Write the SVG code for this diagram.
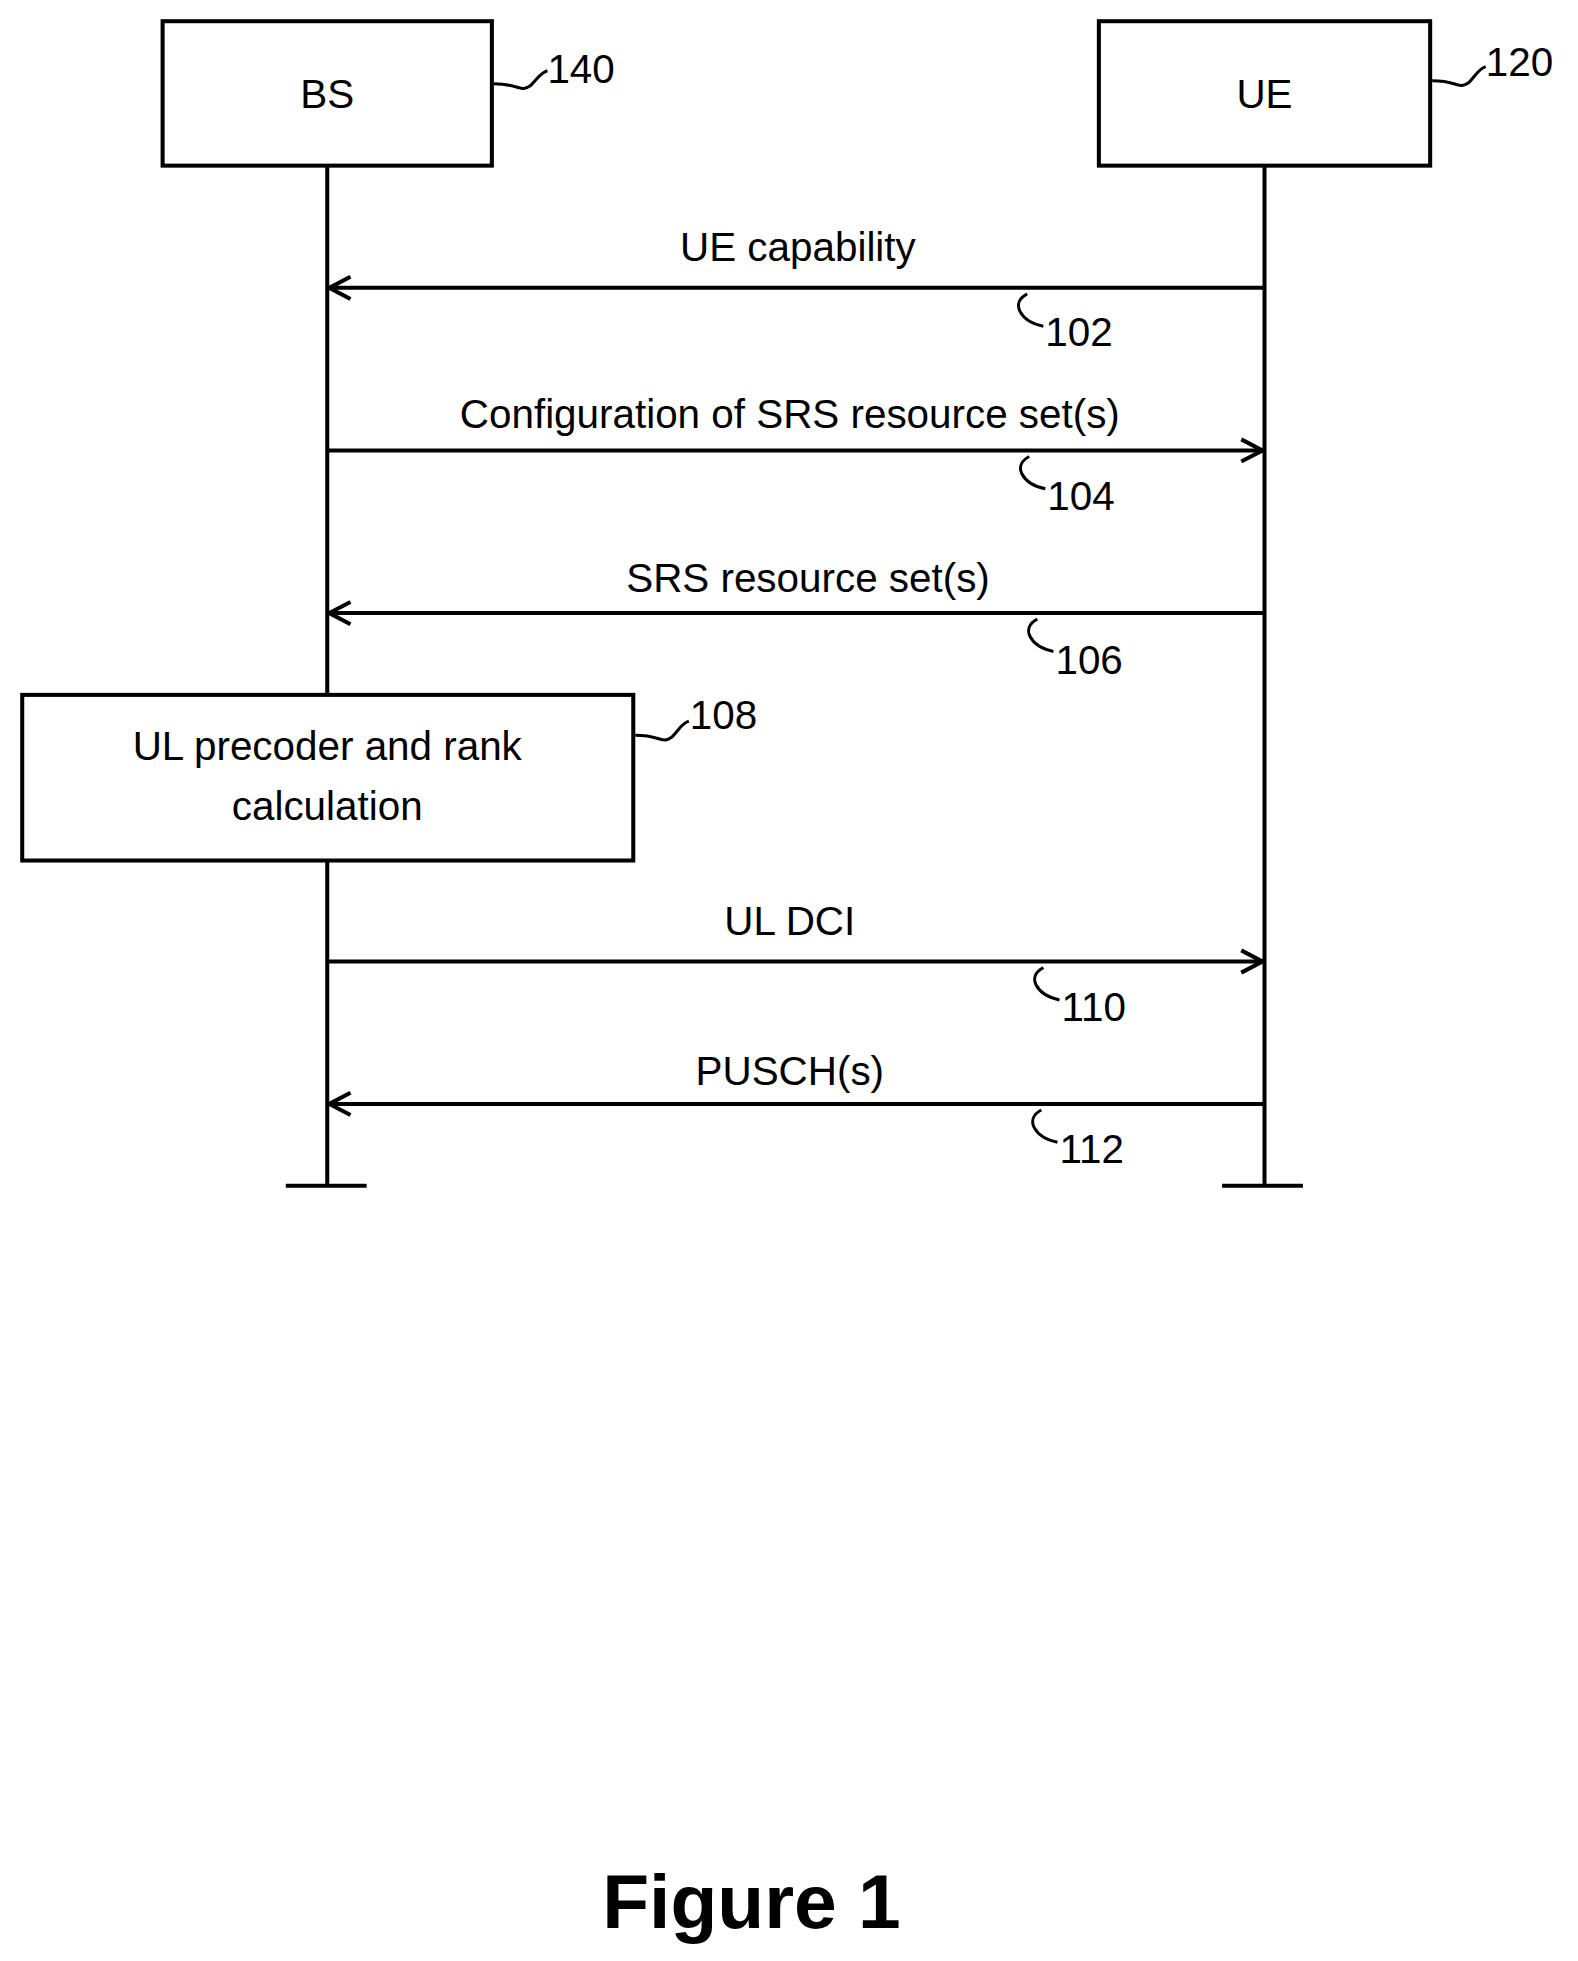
<svg xmlns="http://www.w3.org/2000/svg" width="1578" height="1961" viewBox="0 0 1578 1961">
<style>
.b{fill:#fff;stroke:#000;stroke-width:4}
.l{fill:none;stroke:#000;stroke-width:4}
.h{fill:none;stroke:#000;stroke-width:3}
text{font-family:"Liberation Sans",Arial,sans-serif;font-size:40px;fill:#000}
.m{text-anchor:middle}
</style>
<defs>
<marker id="a" viewBox="0 0 26 26" refX="24" refY="13" markerWidth="26" markerHeight="26" markerUnits="userSpaceOnUse" orient="auto">
<path d="M3,2 L24,13 L3,24" fill="none" stroke="#000" stroke-width="4"/>
</marker>
</defs>
<g transform="scale(1.01)">
<g id="connectors">
<line class="l" x1="324" y1="164" x2="324" y2="688"/>
<line class="l" x1="324" y1="852" x2="324" y2="1174"/>
<line class="l" x1="283" y1="1174" x2="363" y2="1174"/>
<line class="l" x1="1252" y1="164" x2="1252" y2="1174"/>
<line class="l" x1="1210" y1="1174" x2="1290" y2="1174"/>
<line class="l" x1="1252" y1="285" x2="326" y2="285" marker-end="url(#a)"/>
<line class="l" x1="324" y1="446" x2="1250" y2="446" marker-end="url(#a)"/>
<line class="l" x1="1252" y1="607" x2="326" y2="607" marker-end="url(#a)"/>
<line class="l" x1="324" y1="952" x2="1250" y2="952" marker-end="url(#a)"/>
<line class="l" x1="1252" y1="1093" x2="326" y2="1093" marker-end="url(#a)"/>
<path class="h" d="M1017,291 C1000,300 1010,318 1033,323"/>
<path class="h" d="M1019,452 C1002,461 1012,479 1035,484"/>
<path class="h" d="M1027,613 C1010,622 1020,640 1043,645"/>
<path class="h" d="M1033,958 C1016,967 1026,985 1049,990"/>
<path class="h" d="M1031,1099 C1014,1108 1024,1126 1047,1131"/>
<path class="h" d="M489,83 C515,83 515,92 525,85 C532,78 535,72 542,70"/>
<path class="h" d="M1418,80 C1444,80 1444,89 1454,82 C1461,75 1464,68 1471,66"/>
<path class="h" d="M629,728 C655,728 655,737 665,730 C672,723 675,716 682,714"/>
<text class="m" x="790" y="258">UE capability</text>
<text class="m" x="782" y="424">Configuration of SRS resource set(s)</text>
<text class="m" x="800" y="586">SRS resource set(s)</text>
<text class="m" x="782" y="926">UL DCI</text>
<text class="m" x="782" y="1074">PUSCH(s)</text>
<text x="1035" y="343">102</text>
<text x="1037" y="505">104</text>
<text x="1045" y="667">106</text>
<text x="1051" y="1011">110</text>
<text x="1049" y="1151">112</text>
<text x="542" y="82">140</text>
<text x="1471" y="75">120</text>
<text x="683" y="722">108</text>
</g>
<g id="bs"><rect class="b" x="161" y="21" width="326" height="143"/><text class="m" x="324" y="107">BS</text></g>
<g id="ue"><rect class="b" x="1088" y="21" width="328" height="143"/><text class="m" x="1252" y="107">UE</text></g>
<g id="calc"><rect class="b" x="22" y="688" width="605" height="164"/>
<text class="m" x="324" y="752">UL precoder and rank</text>
<text class="m" x="324" y="812">calculation</text></g>
<text x="744" y="1909" class="m" style="font-weight:bold;font-size:76px">Figure 1</text>
</g>
</svg>
